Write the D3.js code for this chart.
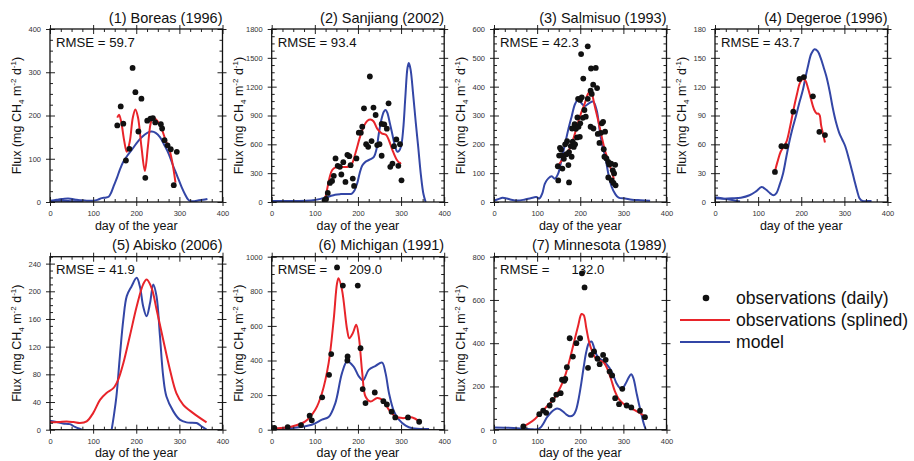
<!DOCTYPE html>
<html>
<head>
<meta charset="utf-8">
<script src="https://cdn.jsdelivr.net/npm/d3@7"></script>
<style>
  body { margin: 0; background: #fff; }
  svg { font-family: "Liberation Sans", Arial, Helvetica, sans-serif; }
</style>
</head>
<body>
<svg id="chart" width="914" height="461"></svg>
<script>
// ---------- data: [day of year, flux in mg CH4 m-2 d-1] ----------
const titles = ["(1) Boreas (1996)", "(2) Sanjiang (2002)", "(3) Salmisuo (1993)", "(4) Degeroe (1996)",
                "(5) Abisko (2006)", "(6) Michigan (1991)", "(7) Minnesota (1989)"];
const rmseText = ["RMSE = 59.7", "RMSE = 93.4", "RMSE = 42.3", "RMSE = 43.7",
                  "RMSE = 41.9", "RMSE =      209.0", "RMSE =      132.0"];
const yMax  = [400, 1800, 600, 180, 250, 1000, 800];
const yStep = [100, 300, 100, 30, 40, 200, 200];
const xTicks = [0, 100, 200, 300, 400];

const boreasObs = [[156,177],[164,221],[170,181],[176,96],[184,123],[191.5,310],[198,254],[205,163],[212,239],
  [221,56],[225.5,188],[233,193],[238.6,194],[244,184],[257,180],[260,170],[265.6,143],[272.6,131],[280,122],[287,39],[294,116]];
const boreasSpline = [[156,195],[160,202],[165,186],[172,142],[178,116],[185,140],[192,195],[198,214],[204,196],
  [212,128],[220,72],[227,128],[233,180],[238,194],[245,192],[252,183],[260,166],[268,143],[276,124],[283,95],[291,45]];
const boreasModel = [[0,3],[10,4],[20,6],[30,7],[42,8],[52,7],[62,5],[72,4],[85,3],[100,3],[110,5],[120,9],[128,10],
  [136,12],[142,22],[148,38],[155,55],[162,75],[170,93],[180,108],[190,121],[200,135],[210,147],[220,156],[230,162],
  [236,163],[245,160],[255,150],[265,132],[275,112],[285,85],[295,60],[305,35],[313,18],[320,6],[326,2],[335,2],
  [345,4],[355,5],[365,7]];
const boreasModelTail = [[0,2],[25,3],[50,2],[75,1]];

const sanjiangObs = [[122.7,17],[126,31],[130,94],[135,198],[140,219],[144,272],[148,453],[153,376],[158,366],
  [161.5,286],[166,414],[171,209],[175.5,491],[180,477],[183,383],[188,244],[191,167],[196.5,453],[202,721],
  [206.6,721],[210,783],[214,975],[219,602],[223.7,574],[227.6,1306],[231.5,634],[236,982],[241,905],[244.7,592],
  [250,602],[255,481],[255,812],[261,808],[267,763],[271,1027],[275,366],[280,400],[283.5,581],[289,651],
  [293.6,376],[297.5,602],[301,226]];
const sanjiangSpline = [[123,15],[128,120],[134,250],[140,330],[148,360],[160,365],[175,365],[185,390],[195,520],
  [205,680],[215,800],[222,845],[229,858],[236,840],[245,760],[255,715],[265,700],[272,640],[280,540],[290,440],
  [297,405],[300,410]];
const sanjiangModel = [[0,10],[20,10],[40,10],[60,10],[80,12],[100,20],[115,35],[125,45],[135,60],[147,76],
  [160,82],[175,84],[186,88],[192,120],[198,190],[204,300],[210,380],[218,420],[227,440],[237,470],[243,550],
  [248,700],[254,850],[260,940],[264,957],[268,930],[274,820],[280,700],[286,580],[291,525],[295,530],[300,580],
  [305,760],[310,1100],[315,1400],[318,1445],[322,1380],[328,1120],[334,830],[340,560],[346,280],[352,80],[357,0]];

const salmisuoObs = [[148,124],[149,75],[151,161],[153,188],[155.5,182],[157,162],[158.6,116],[162,150],[165,200],
  [168,166],[169.5,211],[172.5,128],[174,68],[174,173],[178,194],[180,157],[181,255],[182.6,209],[185,191],
  [187,270],[188,200],[190,254],[192.6,224],[193.4,293],[195,358],[196,261],[199,226],[199.6,354],[200,273],
  [202,513],[203.5,363],[206,292],[207,428],[209.7,319],[212.8,296],[217.4,358],[217.4,540],[224,386],[225,463],
  [226.7,375],[224,261],[230,407],[230.6,255],[236,465],[239,395],[240.6,236],[244.5,205],[248,240],[250,273],
  [253,278],[257.6,244],[254.5,183],[256,157],[260.7,151],[265,139],[267,130],[271.6,133],[275.4,110],[281,129],
  [265,85],[273,75],[277,66],[282,58],[278.5,99]];
const salmisuoSpline = [[148,125],[160,150],[170,170],[180,200],[190,250],[200,300],[210,340],[218,375],[224,385],
  [228,370],[234,330],[242,280],[250,225],[258,175],[266,140],[272,110],[278,80]];
const salmisuoModel = [[0,5],[10,10],[20,15],[30,12],[40,8],[55,5],[70,8],[85,13],[98,17],[105,12],[112,30],
  [118,64],[126,82],[134,89],[141,81],[149,99],[157,150],[165,203],[172,250],[180,296],[188,340],[196,356],
  [203,342],[211,333],[220,342],[230,348],[238,319],[246,238],[252,190],[258,157],[265,99],[273,52],[281,28],
  [289,15],[304,12],[320,8],[340,6],[362,4]];

const degeroeObs = [[139,31.3],[154,58],[164.6,58],[181.5,94],[196,128],[206,130],[227,110],[242,73],[255,69.6]];
const degeroeSpline = [[139,32],[145,42],[152,52],[160,58],[166,63],[174,78],[182,96],[190,112],[197,124],[204,128],
  [210,126],[216,118],[222,108],[230,96],[236,92],[240,92],[243,90],[246,80],[250,72],[255,62]];
const degeroeModel = [[0,4],[20,3.5],[40,3.8],[60,4.5],[80,7],[95,11],[108,15.5],[118,13],[128,9],[135,7],[142,9],
  [150,18],[158,30],[165,46],[173,64],[180,77],[188,90],[196,104],[204,117],[210,130],[216,142],[223,154],[231,159],
  [238,157],[245,150],[252,140],[258,131],[266,115],[273,98],[280,84],[288,72],[295,65],[302,58],[311,44],[318,32],
  [323,23],[330,11],[335,4],[342,1],[352,1],[363,1]];
const degeroeModelTail = [[0,5],[20,3.5],[40,2],[58,0.5]];

const abiskoSpline = [[0,10.6],[20,11],[38.6,12],[55,11],[69.5,9.7],[85,12],[100,24],[116,43],[131,53],[147,60],
  [158,72],[170,96],[185,135],[201,178],[216,210],[224,217],[235.5,205],[247,174],[262.5,130],[278,87],[293,53],
  [309,36],[332,24],[363,10.6]];
const abiskoModel = [[143,0],[148,20],[154,48],[162,106],[170,159],[178,193],[189,207],[201,219.5],[208.5,207],
  [216,178.5],[224,164],[232,183],[239.4,210],[247,193],[255,135],[262.5,77],[270,48],[286,26.5],[301,14.5],
  [316.6,10.6],[340,9.6],[351,5],[363,0]];
const abiskoModelTail = [[0,13],[15,11],[30,9],[46,8],[58,4],[70,1],[74,0]];

const michiganObs = [[6,10],[37,15],[68,27],[88,81],[93,54],[117,187],[133,317],[138,437],[151.5,938],[165,833],
  [176,423],[175.5,400],[199.6,833],[206,471],[211,235],[217.5,154],[239,215],[259,165],[267,146],[278,104],
  [286.6,71],[316,71],[342,46]];
const michiganSpline = [[0,6],[47,19],[78,48],[101,115],[116.5,211],[132,385],[143.7,635],[151.5,846],[155,875],
  [163,808],[175,577],[180,529],[188,558],[196,606],[202,538],[210,327],[217.5,192],[229,163],[244.7,183],
  [256,173],[272,115],[287,77],[303,67],[326,71],[342,48]];
const michiganModel = [[0,4],[47,10],[93,29],[116.5,58],[132,73],[147.6,154],[163,327],[175,394],[190,365],
  [202,308],[212,285],[225,346],[241,369],[256,388],[264,327],[272,211],[283.5,106],[295,58],[310.7,23],[326,8],
  [365,4]];

const minnesotaObs = [[68,15],[105,72],[114,88],[121,78],[129,112],[136,138],[144.5,162],[154.6,169],[157.7,231],
  [163,226],[165.4,235],[169,289],[175.5,423],[183,338],[191,400],[199.6,423],[204,723],[210,658],[218,286],
  [225,346],[232,362],[240,328],[245,303],[253,346],[259,323],[268,269],[274,251],[281,146],[290,118],[297.5,189],
  [307.6,112],[318.4,103],[338.6,88],[350,58]];
const minnesotaSpline = [[68,15],[80,28],[95,50],[110,83],[125,112],[140,145],[155,200],[165,250],[175,320],
  [185,400],[195,480],[203,535],[208,530],[214,470],[220,410],[228,360],[236,330],[245,320],[255,310],[263,280],
  [272,230],[280,180],[290,140],[300,120],[312,105],[325,92],[340,75],[352,58]];
const minnesotaModel = [[0,10],[30,9],[60,6],[85,2],[100,2],[108,10],[115,30],[122,55],[130,75],[138,90],[146,98],
  [152,95],[160,84],[168,70],[176,62],[184,68],[190,90],[196,140],[202,210],[208,290],[214,360],[220,400],
  [226,408],[232,380],[238,345],[245,328],[252,320],[260,305],[268,285],[276,255],[284,215],[292,192],[298,192],
  [305,212],[312,240],[318,256],[323,240],[330,175],[336,120],[342,70],[347,30],[352,0]];

const legendLabels = ["observations (daily)", "observations (splined)", "model"];

// ---------- panel table built from the arrays above ----------
const panels = [
  { obs: boreasObs,    spline: boreasSpline,    model: [boreasModel, boreasModelTail] },
  { obs: sanjiangObs,  spline: sanjiangSpline,  model: [sanjiangModel] },
  { obs: salmisuoObs,  spline: salmisuoSpline,  model: [salmisuoModel] },
  { obs: degeroeObs,   spline: degeroeSpline,   model: [degeroeModel, degeroeModelTail] },
  { obs: [],           spline: abiskoSpline,    model: [abiskoModel, abiskoModelTail] },
  { obs: michiganObs,  spline: michiganSpline,  model: [michiganModel] },
  { obs: minnesotaObs, spline: minnesotaSpline, model: [minnesotaModel] }
].map((p, i) => ({ ...p, title: titles[i], rmse: rmseText[i], yMax: yMax[i], yStep: yStep[i] }));

// ---------- layout ----------
const colX = [50, 271.7, 494, 715];
const rowY = [29, 256.7];
const W = 172.5, H = 173;
const RED = "#e8242a", BLUE = "#3346a6";
const plain = d3.format("d");

const svg = d3.select("#chart");

function drawPanel(p, i) {
  const px = colX[i < 4 ? i : i - 4];
  const py = rowY[i < 4 ? 0 : 1];
  const g = svg.append("g").attr("transform", `translate(${px},${py})`);

  const x = d3.scaleLinear().domain([0, 400]).range([0, W]);
  const y = d3.scaleLinear().domain([0, p.yMax]).range([H, 0]);

  const clipId = "clip" + i;
  g.append("clipPath").attr("id", clipId)
    .append("rect").attr("x", 0).attr("y", 0).attr("width", W).attr("height", H);
  const plot = g.append("g").attr("clip-path", `url(#${clipId})`);

  const line = d3.line().x(d => x(d[0])).y(d => y(d[1])).curve(d3.curveCatmullRom.alpha(0.5));

  p.model.forEach(seg => {
    plot.append("path").attr("d", line(seg)).attr("fill", "none")
      .attr("stroke", BLUE).attr("stroke-width", 2);
  });
  plot.append("path").attr("d", line(p.spline)).attr("fill", "none")
    .attr("stroke", RED).attr("stroke-width", 2);
  plot.selectAll("circle.obs").data(p.obs).join("circle").attr("class", "obs")
    .attr("cx", d => x(d[0])).attr("cy", d => y(d[1])).attr("r", 2.9).attr("fill", "#111");

  // axes: majors cross the frame, minors point inward
  const yMaj = d3.range(0, p.yMax + 1e-6, p.yStep);
  const yMin = d3.range(0, p.yMax + 1e-6, p.yStep / 4).filter(v => !yMaj.includes(v));
  const xMin = d3.range(0, 401, 25).filter(v => !xTicks.includes(v));

  const styleAxis = sel => {
    sel.select(".domain").remove();
    sel.selectAll("line").attr("stroke", "#222").attr("stroke-width", 1);
    sel.selectAll("text").attr("font-size", 7.5).attr("fill", "#333")
      .attr("font-family", "'Liberation Sans', Arial, sans-serif");
  };
  const blank = () => "";

  // bottom
  g.append("g").attr("transform", `translate(0,${H})`)
    .call(d3.axisBottom(x).tickValues(xTicks).tickFormat(plain).tickSize(4).tickPadding(5)).call(styleAxis);
  g.append("g").attr("transform", `translate(0,${H})`)
    .call(d3.axisBottom(x).tickValues(xTicks).tickSize(-5).tickFormat(blank)).call(styleAxis);
  g.append("g").attr("transform", `translate(0,${H})`)
    .call(d3.axisBottom(x).tickValues(xMin).tickSize(-3).tickFormat(blank)).call(styleAxis);
  // top
  g.append("g").call(d3.axisTop(x).tickValues(xTicks).tickSize(4).tickFormat(blank)).call(styleAxis);
  g.append("g").call(d3.axisTop(x).tickValues(xTicks).tickSize(-5).tickFormat(blank)).call(styleAxis);
  g.append("g").call(d3.axisTop(x).tickValues(xMin).tickSize(-3).tickFormat(blank)).call(styleAxis);
  // left
  g.append("g").call(d3.axisLeft(y).tickValues(yMaj).tickFormat(plain).tickSize(4).tickPadding(5)).call(styleAxis);
  g.append("g").call(d3.axisLeft(y).tickValues(yMaj).tickSize(-5).tickFormat(blank)).call(styleAxis);
  g.append("g").call(d3.axisLeft(y).tickValues(yMin).tickSize(-3).tickFormat(blank)).call(styleAxis);
  // right
  g.append("g").attr("transform", `translate(${W},0)`)
    .call(d3.axisRight(y).tickValues(yMaj).tickSize(4).tickFormat(blank)).call(styleAxis);
  g.append("g").attr("transform", `translate(${W},0)`)
    .call(d3.axisRight(y).tickValues(yMaj).tickSize(-5).tickFormat(blank)).call(styleAxis);
  g.append("g").attr("transform", `translate(${W},0)`)
    .call(d3.axisRight(y).tickValues(yMin).tickSize(-3).tickFormat(blank)).call(styleAxis);

  // frame
  g.append("rect").attr("width", W).attr("height", H)
    .attr("fill", "none").attr("stroke", "#111").attr("stroke-width", 1.3);

  // title
  g.append("text").attr("x", W).attr("y", -6.5).attr("text-anchor", "end")
    .attr("font-size", 14.5).attr("fill", "#111").text(p.title);

  // RMSE
  g.append("text").attr("x", 6).attr("y", 17.8).attr("font-size", 13.2)
    .attr("fill", "#111").style("white-space", "pre").text(p.rmse);

  // x title
  g.append("text").attr("x", W / 2).attr("y", H + 27.5).attr("text-anchor", "middle")
    .attr("font-size", 12.5).attr("fill", "#111").text("day of the year");

  // y title with chemical subscript and unit exponents
  const yt = g.append("text")
    .attr("transform", `translate(-29,${H / 2}) rotate(-90)`)
    .attr("text-anchor", "middle").attr("font-size", 12.5).attr("fill", "#111");
  yt.append("tspan").text("Flux (mg CH");
  yt.append("tspan").attr("font-size", 8).attr("dy", 3).text("4");
  yt.append("tspan").attr("dy", -3).text(" m");
  yt.append("tspan").attr("font-size", 8).attr("dy", -5).text("-2");
  yt.append("tspan").attr("dy", 5).text(" d");
  yt.append("tspan").attr("font-size", 8).attr("dy", -5).text("-1");
  yt.append("tspan").attr("dy", 5).text(")");
}

panels.forEach(drawPanel);

// ---------- legend ----------
const lg = svg.append("g").attr("transform", "translate(680,298)");
const rowGap = 22;
lg.append("circle").attr("cx", 26).attr("cy", 0).attr("r", 3.3).attr("fill", "#111");
lg.append("line").attr("x1", 0).attr("x2", 50).attr("y1", rowGap).attr("y2", rowGap)
  .attr("stroke", RED).attr("stroke-width", 2);
lg.append("line").attr("x1", 0).attr("x2", 50).attr("y1", 2 * rowGap).attr("y2", 2 * rowGap)
  .attr("stroke", BLUE).attr("stroke-width", 2);
lg.selectAll("text.lab").data(legendLabels).join("text").attr("class", "lab")
  .attr("x", 56).attr("y", (d, i) => i * rowGap + 6)
  .attr("font-size", 17.6).attr("fill", "#111").text(d => d);
</script>
</body>
</html>
